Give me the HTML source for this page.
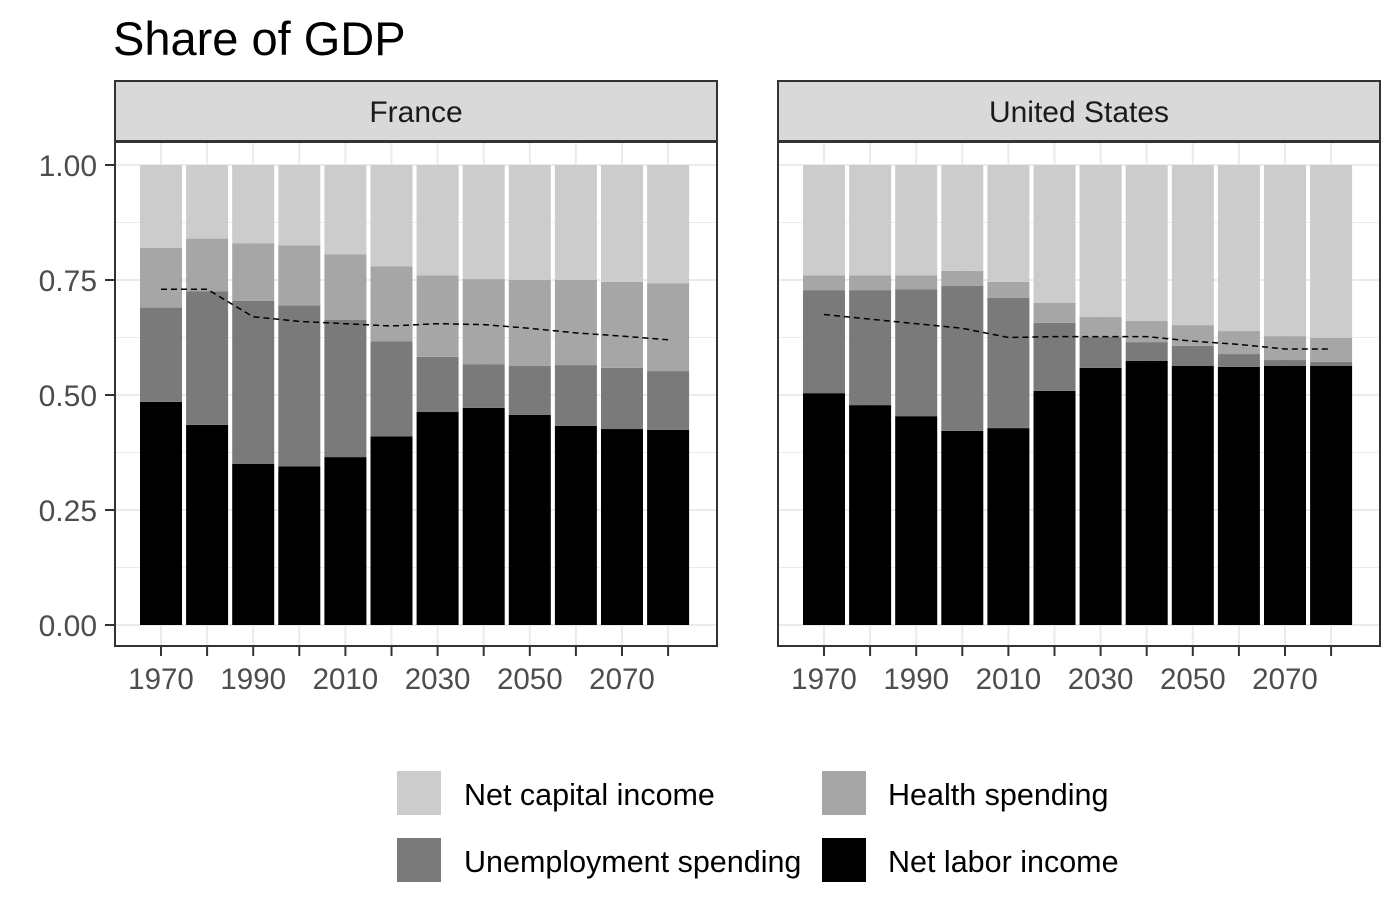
<!DOCTYPE html>
<html><head><meta charset="utf-8"><style>body{margin:0;background:#fff}svg{display:block;font-family:"Liberation Sans",Arial,sans-serif}</style></head>
<body>
<svg id="c" width="1400" height="924"></svg>
<script>
const years=[1970,1980,1990,2000,2010,2020,2030,2040,2050,2060,2070,2080];
const frLabor=[0.485,0.435,0.35,0.345,0.365,0.41,0.463,0.472,0.457,0.433,0.426,0.424];
const frUnemp=[0.69,0.725,0.705,0.695,0.663,0.617,0.583,0.567,0.563,0.565,0.559,0.552];
const frHealth=[0.82,0.84,0.83,0.825,0.806,0.78,0.76,0.752,0.75,0.75,0.746,0.743];
const frLine=[0.73,0.73,0.67,0.66,0.655,0.65,0.655,0.653,0.645,0.635,0.628,0.62];
const usLabor=[0.504,0.478,0.454,0.422,0.428,0.509,0.559,0.574,0.563,0.561,0.563,0.563];
const usUnemp=[0.728,0.728,0.73,0.737,0.711,0.657,0.626,0.615,0.607,0.589,0.576,0.572];
const usHealth=[0.76,0.76,0.76,0.77,0.746,0.70,0.67,0.661,0.652,0.639,0.628,0.624];
const usLine=[0.675,0.665,0.655,0.645,0.625,0.627,0.627,0.627,0.617,0.61,0.60,0.60];
const yTicks=[0,0.25,0.5,0.75,1.0];
const yTickLabels=["0.00","0.25","0.50","0.75","1.00"];
const xTicks=[1970,1990,2010,2030,2050,2070];
const panels=[{name:"France",x0:115,labor:frLabor,unemp:frUnemp,health:frHealth,line:frLine},
{name:"United States",x0:778,labor:usLabor,unemp:usUnemp,health:usHealth,line:usLine}];
const NS="http://www.w3.org/2000/svg",svg=document.getElementById('c');
function el(t,a,p){const e=document.createElementNS(NS,t);for(const k in a)e.setAttribute(k,a[k]);(p||svg).appendChild(e);return e;}
const y=v=>625-v*460;
const t=el('text',{x:113,y:55,'font-size':47,fill:'#000'});t.textContent="Share of GDP";


const W=602;
panels.forEach((P,pi)=>{
 const x=yr=>P.x0+46+(yr-1970)*4.61;
 const g=el('g',{});
 
 
 el('rect',{x:P.x0,y:142,width:W,height:504,fill:'#fff'},g);
 for(let v=0;v<=1.0001;v+=0.125){el('line',{x1:P.x0,x2:P.x0+W,y1:y(v),y2:y(v),stroke:'#ebebeb','stroke-width':(Math.round(v*8)%2==0)?2:1},g);}
 years.forEach((yr,i)=>el('line',{x1:x(yr),x2:x(yr),y1:142,y2:646,stroke:'#ebebeb','stroke-width':2},g));
 years.forEach((yr,i)=>{
  const bx=x(yr)-21;
  const segs=[[0,P.labor[i],'#000','net-labor-income'],[P.labor[i],P.unemp[i],'#7a7a7a','unemployment-spending'],[P.unemp[i],P.health[i],'#a6a6a6','health-spending'],[P.health[i],1,'#cccccc','net-capital-income']];
  segs.forEach(s=>{const r=el('rect',{x:bx,y:y(s[1]),width:42,height:y(s[0])-y(s[1]),fill:s[2]},g);
   
   });
 });
 const pl=el('polyline',{points:years.map((yr,i)=>x(yr)+','+y(P.line[i])).join(' '),fill:'none',stroke:'#000','stroke-width':1.5,'stroke-dasharray':'6,4'},g);
 
 
 el('rect',{x:P.x0,y:142,width:W,height:504,fill:'none',stroke:'#333','stroke-width':2},g);
 el('rect',{x:P.x0,y:81,width:W,height:60,fill:'#d9d9d9',stroke:'#333','stroke-width':2},g);
 const st=el('text',{x:P.x0+W/2,y:122,'text-anchor':'middle','font-size':30,fill:'#1a1a1a'},g);st.textContent=P.name;
 
 
 years.forEach(yr=>el('line',{x1:x(yr),x2:x(yr),y1:646,y2:656,stroke:'#333','stroke-width':2},g));
 xTicks.forEach(yr=>{const tx=el('text',{x:x(yr),y:689,'text-anchor':'middle','font-size':29.5,fill:'#4d4d4d'},g);tx.textContent=yr;
  
  });
 if(pi==0){yTicks.forEach((v,i)=>{el('line',{x1:105,x2:115,y1:y(v),y2:y(v),stroke:'#333','stroke-width':2},g);
  const ty=el('text',{x:97,y:y(v)+11,'text-anchor':'end','font-size':30,fill:'#4d4d4d'},g);ty.textContent=yTickLabels[i];
  
  });}
});
const leg=[["Net capital income","#cccccc",397,771,464],["Health spending","#a6a6a6",822,771,888],["Unemployment spending","#7a7a7a",397,838,464],["Net labor income","#000",822,838,888]];
leg.forEach(l=>{const g=el('g',{});
 
 
 el('rect',{x:l[2],y:l[3],width:44,height:44,fill:l[1]},g);
 const tt=el('text',{x:l[4],y:l[3]+34,'font-size':30.5,fill:'#000'},g);tt.textContent=l[0];});
</script>
</body></html>
